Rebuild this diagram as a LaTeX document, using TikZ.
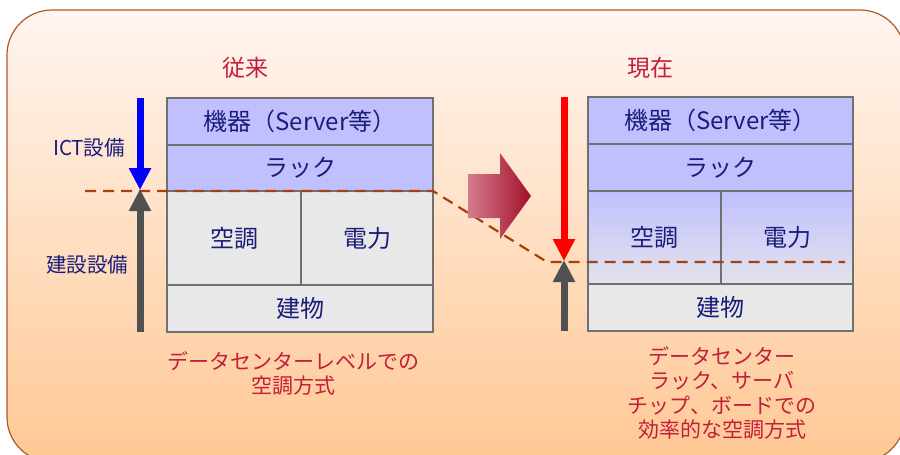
\documentclass[tikz,border=0pt]{standalone}
\usepackage{fontspec}
\setmainfont{Noto Sans CJK JP}
\usepackage{xcolor}
\definecolor{panel_top}{HTML}{FFF5F0}
\definecolor{panel_bottom}{HTML}{FFC894}
\definecolor{panel_line}{HTML}{B0582A}
\definecolor{box_blue}{HTML}{C0C0FF}
\definecolor{box_gray}{HTML}{E8E8E8}
\definecolor{box_line}{HTML}{707070}
\definecolor{label_navy}{HTML}{1C1C7A}
\definecolor{label_red}{HTML}{C41E3A}
\definecolor{dash_brown}{HTML}{A8400E}
\definecolor{arrow_gray}{HTML}{505050}
\definecolor{shift_light}{HTML}{D47C8C}
\definecolor{shift_dark}{HTML}{A0102A}
\usetikzlibrary{arrows.meta,positioning}

\begin{document}
\begin{tikzpicture}[x=1pt,y=-1pt]
\tikzset{
    block/.style={rectangle,draw=box_line,line width=1.2pt,inner sep=0pt,text=label_navy,font=\fontsize{24}{26}\selectfont},
    ict/.style={block,fill=box_blue},
    fac/.style={block,fill=box_gray},
    fade/.style={block,top color=box_blue,middle color=box_blue,bottom color=box_gray!85!box_blue},
    title/.style={text=label_red,font=\fontsize{23}{26}\selectfont},
    caption/.style={align=center,text=label_red,font=\fontsize{21}{24.5}\selectfont},
    side/.style={text=label_navy,font=\fontsize{20.5}{22}\selectfont},
    level/.style={-{Triangle[width=21pt,length=22pt]},line width=7pt},
    bound/.style={draw=dash_brown,line width=2.2pt,dash pattern=on 11pt off 7pt}
}
\useasboundingbox (0,0) rectangle (900,455);
\clip (0,0) rectangle (900,455);
% background panel
\draw[panel_line,line width=1.2pt,rounded corners=45pt,top color=panel_top,bottom color=panel_bottom]
  (7,10) rectangle (905,462);

% old stack
\node[title] (oldtitle) at (245,68) {従来};
\node[ict,minimum width=266pt,minimum height=47pt] (mach1) at (300,121.5) {機器（Server等）};
\node[ict,minimum width=266pt,minimum height=46pt] (rack1) at (300,168) {ラック};
\node[fac,minimum width=134pt,minimum height=94pt] (ac1) at (234,238) {空調};
\node[fac,minimum width=132pt,minimum height=94pt] (pw1) at (367,238) {電力};
\node[fac,minimum width=266pt,minimum height=47pt] (bld1) at (300,308.5) {建物};
\node[caption] (oldcap) at (293,373.5) {データセンターレベルでの\\空調方式};

% new stack
\node[title] (newtitle) at (650,68) {現在};
\node[ict,minimum width=265pt,minimum height=47pt] (mach2) at (720.5,120.5) {機器（Server等）};
\node[ict,minimum width=265pt,minimum height=47pt] (rack2) at (720.5,167.5) {ラック};
\node[fade,minimum width=133pt,minimum height=93pt] (ac2) at (654.5,237.5) {空調};
\node[fade,minimum width=132pt,minimum height=93pt] (pw2) at (787,237.5) {電力};
\node[fac,minimum width=265pt,minimum height=47pt] (bld2) at (720.5,307.5) {建物};
\node[caption] (newcap) at (722,393) {データセンター\\ラック、サーバ\\チップ、ボードでの\\効率的な空調方式};

% side labels
\node[side] (ictlabel) at (89,148) {ICT設備};
\node[side] (faclabel) at (87,265) {建設設備};

% boundary line
\coordinate (dashA) at (85,191);
\coordinate (dashB) at (433,191);
\coordinate (dashC) at (547,262);
\coordinate (dashD) at (845,262);
\draw[bound] (dashA) -- (dashB) -- (dashC) -- (dashD);

% level arrows
\coordinate (ictTop1) at (140,98);
\coordinate (lvl1) at (140,190);
\coordinate (facBot1) at (140,332);
\coordinate (ictTop2) at (564,97);
\coordinate (lvl2) at (564,261);
\coordinate (facBot2) at (564,331);
\draw[level,blue] (ictTop1) -- (lvl1);
\draw[level,arrow_gray] (facBot1) -- ([yshift=1pt]lvl1);
\draw[level,red] (ictTop2) -- (lvl2);
\draw[level,arrow_gray] (facBot2) -- ([yshift=1pt]lvl2);

% shift arrow
\shade[left color=shift_light,right color=shift_dark]
  (468,174) -- (500,174) -- (500,153) -- (531,196) -- (500,239) -- (500,218) -- (468,218) -- cycle;
\end{tikzpicture}
\end{document}
